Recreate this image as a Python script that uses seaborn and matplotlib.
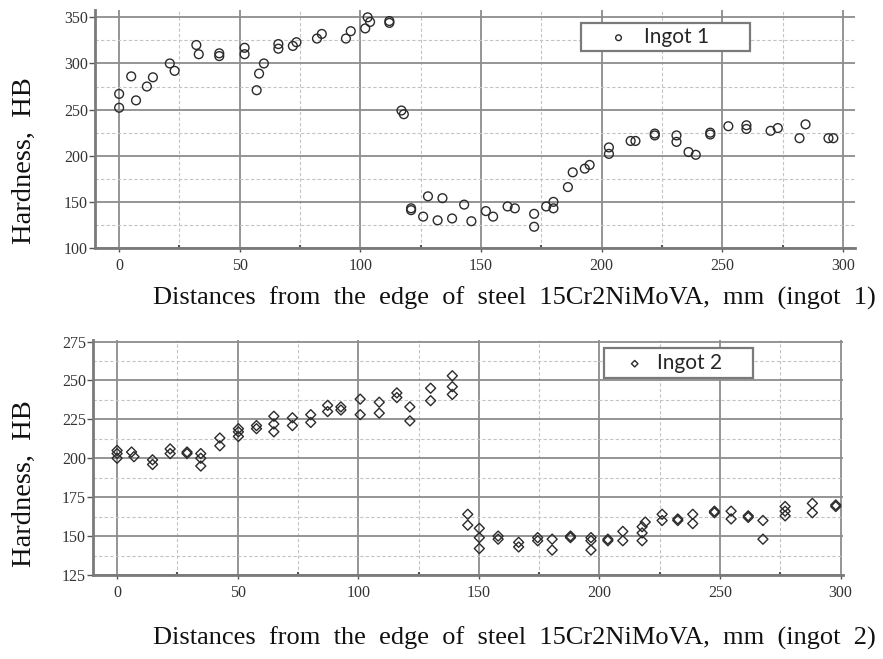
import numpy as np
import pandas as pd
import matplotlib
matplotlib.use("Agg")
import matplotlib.pyplot as plt
import seaborn as sns
from matplotlib.ticker import MultipleLocator

# Ingot 1: distance (mm) and hardness (HB)
dist1 = [0, 0, 5, 7, 11.5, 14, 21, 23, 32, 33, 41.5, 41.5, 52, 52, 57, 58, 60,
         66, 66, 72, 73.5, 82, 84, 94, 96, 102, 103, 104, 112, 112, 117, 118,
         121, 121, 126, 128, 132, 134, 138, 143, 146, 152, 155, 161, 164, 172,
         172, 177, 180, 180, 186, 188, 193, 195, 203, 203, 212, 214, 222, 222,
         231, 231, 236, 239, 245, 245, 252.5, 260, 260, 270, 273, 282, 284.5,
         294, 296]
hb1 = [267, 252, 286, 260, 275, 285, 300, 292, 320, 310, 311, 308, 317, 310,
       271, 289, 300, 321, 316, 319, 323, 327, 332, 327, 335, 338, 350, 345,
       346, 344, 249, 245, 143, 141, 134, 156, 130, 154, 132, 147, 129, 140,
       134, 145, 143, 137, 123, 145, 150, 143, 166, 182, 186, 190, 209, 202,
       216, 216, 224, 222, 222, 215, 204, 201, 225, 223, 232, 233, 229, 227,
       230, 219, 234, 219, 219]

# Ingot 2
dist2 = [0, 0, 0, 6, 7, 14.7, 14.7, 22, 22, 29, 29, 34.7, 34.7, 34.7,
         42.6, 42.6, 50.3, 50.3, 50.3, 57.8, 57.8, 65, 65, 65, 72.7, 72.7,
         80.3, 80.3, 87.3, 87.3, 92.8, 92.8, 100.8, 100.8, 108.7, 108.7,
         116, 116, 121.4, 121.4, 130, 130, 139, 139, 139, 145.4, 145.4,
         150.2, 150.2, 150.2, 158, 158, 166.5, 166.5, 174.4, 174.4, 180.4,
         180.4, 188, 188, 196.5, 196.5, 196.5, 203.5, 203.5, 209.7, 209.7,
         217.7, 217.7, 217.7, 219, 226, 226, 232.5, 232.5, 238.7, 238.7,
         247.7, 247.7, 254.6, 254.6, 261.7, 261.7, 267.8, 267.8, 277, 277,
         277, 288.3, 288.3, 298, 298]
hb2 = [205, 203, 200, 204, 201, 199, 196, 206, 203, 204, 203, 203, 200, 195,
       213, 208, 219, 217, 214, 221, 219, 227, 222, 217, 226, 221,
       228, 223, 234, 230, 233, 231, 238, 228, 236, 229,
       242, 239, 233, 224, 245, 237, 253, 246, 241, 164, 157,
       155, 149, 142, 150, 148, 146, 143, 149, 147, 148,
       141, 150, 149, 149, 147, 141, 148, 147, 153, 147,
       156, 152, 147, 159, 164, 160, 161, 160, 164, 158,
       166, 165, 166, 161, 163, 162, 160, 148, 169, 166,
       163, 171, 165, 170, 169]

xticks = [0, 50, 100, 150, 200, 250, 300]
xlabel1 = "Distances  from  the  edge  of  steel  15Cr2NiMoVA,  mm  (ingot  1)"
xlabel2 = "Distances  from  the  edge  of  steel  15Cr2NiMoVA,  mm  (ingot  2)"
ylabel = "Hardness,  HB"

df1 = pd.DataFrame({"dist": dist1, "hb": hb1})
df2 = pd.DataFrame({"dist": dist2, "hb": hb2})

sns.set_style("white")
plt.rcParams["font.family"] = ["Liberation Serif", "DejaVu Serif"]

fig = plt.figure(figsize=(8.83, 6.59), dpi=100)
ax1 = fig.add_axes([0.1076, 0.6237, 0.8607, 0.3612])
ax2 = fig.add_axes([0.1053, 0.1275, 0.8494, 0.3566])

sns.scatterplot(data=df1, x="dist", y="hb", ax=ax1, marker="o", s=40,
                color="#2b2b2b", facecolors="none", edgecolor="#2b2b2b",
                linewidth=1.0, label="Ingot 1")
sns.scatterplot(data=df2, x="dist", y="hb", ax=ax2, marker="D", s=26,
                color="#2b2b2b", facecolors="none", edgecolor="#2b2b2b",
                linewidth=1.0, label="Ingot 2")


def style_axes(ax, ymaj):
    ax.set_xlabel("")
    ax.set_ylabel("")
    ax.set_xticks(xticks)
    ax.xaxis.set_minor_locator(MultipleLocator(25))
    ax.yaxis.set_major_locator(MultipleLocator(ymaj))
    ax.yaxis.set_minor_locator(MultipleLocator(ymaj / 2))
    ax.grid(which="major", color="#8c8c8c", linewidth=1.3, linestyle="-")
    ax.grid(which="minor", color="#c4c4c4", linewidth=0.8, linestyle=(0, (3, 2)))
    ax.set_axisbelow(True)
    for side in ["top", "right"]:
        ax.spines[side].set_visible(False)
    for side in ["left", "bottom"]:
        ax.spines[side].set_color("#7a7a7a")
        ax.spines[side].set_linewidth(2)
    ax.tick_params(axis="y", which="major", length=4, width=1, color="#555555",
                   labelsize=11.5, labelcolor="#333333", pad=1, left=True)
    ax.tick_params(axis="x", which="major", length=3, width=1, color="#555555",
                   labelsize=11.5, labelcolor="#333333", pad=4, bottom=True)
    ax.tick_params(axis="x", which="minor", length=2, width=1.5,
                   direction="in", color="#555555", bottom=True)
    ax.tick_params(axis="y", which="minor", length=0)


style_axes(ax1, 50)
ax1.set_xlim(-10, 305)
ax1.set_ylim(100, 358)

style_axes(ax2, 25)
ax2.set_xlim(-10, 301)
ax2.set_ylim(125, 276)

leg_kw = dict(loc="upper left", mode="expand", borderaxespad=0,
              fancybox=False, framealpha=1, edgecolor="#7a7a7a",
              markerscale=0.65, prop={"family": "Lato", "size": 15})
leg1 = ax1.legend(bbox_to_anchor=(0.6395, 0.0, 0.2224, 0.945),
                  borderpad=0.2, handlelength=3.2, handletextpad=-0.4, **leg_kw)
leg2 = ax2.legend(bbox_to_anchor=(0.6813, 0.0, 0.1987, 0.966),
                  borderpad=0.25, handlelength=2.45, handletextpad=-0.17, **leg_kw)
for leg in (leg1, leg2):
    leg.get_frame().set_linewidth(1.6)

fig.text(0.582, 0.548, xlabel1, ha="center", va="center", fontsize=19,
         color="#111111")
fig.text(0.582, 0.032, xlabel2, ha="center", va="center", fontsize=19,
         color="#111111")
fig.text(0.028, 0.757, ylabel, rotation=90, ha="center", va="center",
         fontsize=20.5, color="#111111")
fig.text(0.028, 0.266, ylabel, rotation=90, ha="center", va="center",
         fontsize=20.5, color="#111111")

fig.savefig("out.png", dpi=100, facecolor="white")
